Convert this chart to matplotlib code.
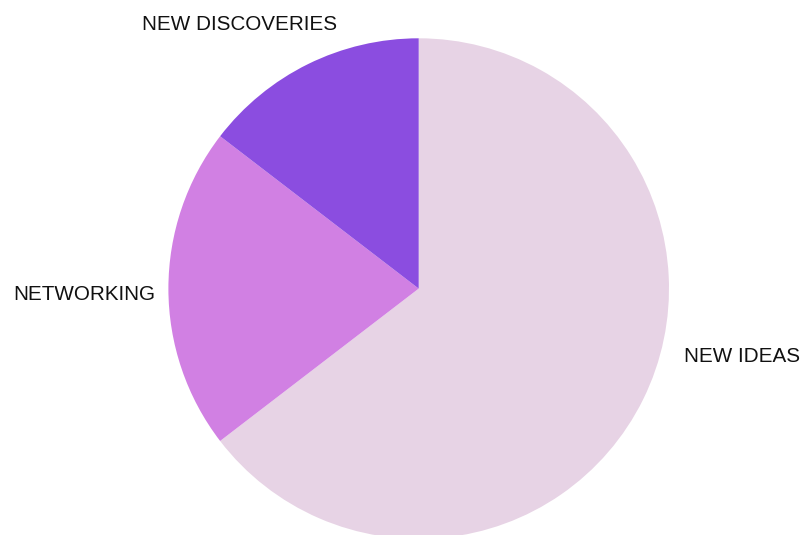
import matplotlib
matplotlib.use('Agg')
import matplotlib.pyplot as plt

labels = ['NEW IDEAS', 'NETWORKING', 'NEW DISCOVERIES']
values = [31, 10, 7]
colors = ['#E7D3E5', '#D180E3', '#8B4DE0']

# label anchor points in pixels (x, y from top) and alignment
label_pos = [(800, 357, 'right'), (155, 294, 'right'), (240, 25, 'center')]

W, H = 803, 535
cx, cy, r = 418.7, 288.6, 250.3

fig = plt.figure(figsize=(W / 100, H / 100), dpi=100)
ax = fig.add_axes([0, 0, 1, 1])
ax.pie(values, colors=colors, startangle=90, counterclock=False, radius=1,
       wedgeprops=dict(linewidth=0))
ax.set_xlim(-cx / r, (W - cx) / r)
ax.set_ylim(-(H - cy) / r, cy / r)
ax.set_aspect('equal', adjustable='datalim')
ax.axis('off')

for lab, (px, py, ha) in zip(labels, label_pos):
	fig.text(px / W, 1 - py / H, lab, ha=ha, va='center',
			 fontsize=14.9, family='Liberation Sans', color='#111111')

plt.savefig('out.png', dpi=100)
plt.close()
